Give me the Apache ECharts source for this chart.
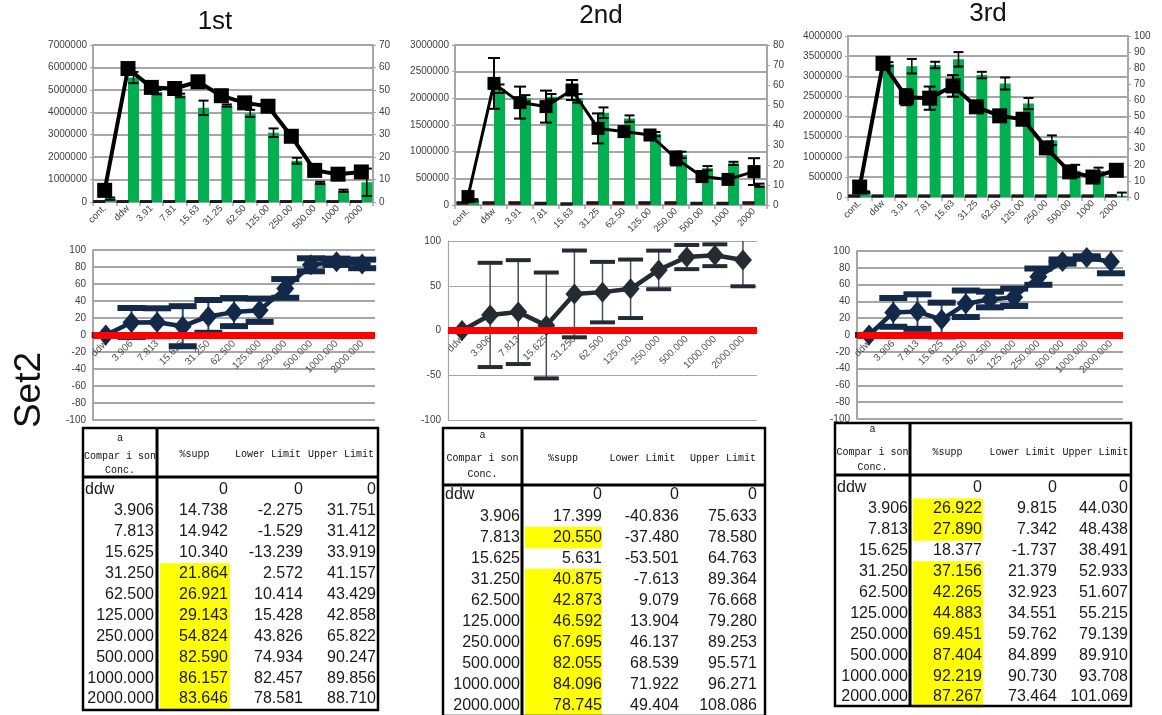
<!DOCTYPE html>
<html>
<head>
<meta charset="utf-8">
<script src="https://cdn.jsdelivr.net/npm/echarts@6/dist/echarts.min.js"></script>
<style>
  html, body { margin: 0; padding: 0; background: #fff; }
  #c { width: 1162px; height: 715px; }
</style>
</head>
<body>
<div id="c"></div>
<script>
// ---- categories ----
const TOP_CATS = ['cont.', 'ddw', '3.91', '7.81', '15.63', '31.25', '62.50', '125.00', '250.00', '500.00', '1000', '2000'];
const CONC = ['ddw', '3.906', '7.813', '15.625', '31.250', '62.500', '125.000', '250.000', '500.000', '1000.000', '2000.000'];
const TITLES = ['1st', '2nd', '3rd'];
const SET_NAME = 'Set2';

// ---- top panels: left-axis bars (mean, sd), right-axis line (mean, sd) ----
const base1 = [20000, 20000, 20000, 20000, 20000, 20000, 20000, 20000, 20000, 20000, 20000, 20000];
const baseSd1 = [10000, 10000, 10000, 10000, 10000, 10000, 10000, 10000, 10000, 10000, 10000, 10000];
const bar1 = [150000, 5550000, 4900000, 4750000, 4200000, 4300000, 3950000, 3090000, 1840000, 850000, 500000, 880000];
const barSd1 = [50000, 250000, 100000, 80000, 320000, 50000, 160000, 190000, 130000, 50000, 50000, 610000];
const rate1 = [5.2, 59.5, 51.1, 50.6, 53.6, 47.4, 44.2, 42.7, 29.3, 14.1, 12.4, 13.4];
const rateSd1 = [0.5, 1.5, 1, 1, 1.5, 1, 1, 1, 1, 1, 1, 1];

const base2 = [40000, 40000, 40000, 30000, 20000, 40000, 40000, 40000, 40000, 30000, 30000, 40000];
const baseSd2 = [8000, 8000, 8000, 8000, 8000, 8000, 8000, 8000, 8000, 8000, 8000, 8000];
const bar2 = [90000, 2180000, 2000000, 2030000, 2000000, 1730000, 1620000, 1330000, 940000, 690000, 780000, 370000];
const barSd2 = [20000, 80000, 60000, 50000, 80000, 100000, 60000, 40000, 60000, 40000, 30000, 30000];
const rate2 = [4.2, 60.8, 51.2, 49.2, 57.5, 38.3, 36.7, 35.0, 23.3, 14.2, 12.8, 16.7];
const rateSd2 = [1, 12.7, 8, 8, 5, 7.5, 2, 1.5, 3.5, 2.5, 2, 6.7];

const base3 = [25000, 25000, 25000, 25000, 25000, 25000, 25000, 25000, 25000, 25000, 25000, 30000];
const baseSd3 = [10000, 10000, 10000, 10000, 10000, 10000, 10000, 10000, 10000, 10000, 10000, 10000];
const bar3 = [120000, 3300000, 3250000, 3280000, 3420000, 3030000, 2820000, 2320000, 1410000, 650000, 650000, 30000];
const barSd3 = [20000, 50000, 180000, 80000, 180000, 80000, 150000, 140000, 120000, 150000, 80000, 80000];
const rate3 = [6.2, 83.0, 62.0, 61.4, 69.0, 56.0, 50.4, 48.3, 30.5, 15.6, 12.4, 16.6];
const rateSd3 = [1, 1.5, 5, 7.2, 6.7, 2, 1.5, 1.5, 1.5, 2, 2, 2];

// ---- axis tick settings of the top panels ----
const LEFT_MAX = [7000000, 3000000, 4000000];
const LEFT_STEP = [1000000, 500000, 500000];
const RIGHT_MAX = [70, 80, 100];
const RIGHT_STEP = [10, 10, 10];
const MID_STEP = [20, 50, 20];

// ---- %supp with confidence limits (tables and middle panels) ----
const supp1 = [0, 14.738, 14.942, 10.340, 21.864, 26.921, 29.143, 54.824, 82.590, 86.157, 83.646];
const lower1 = [0, -2.275, -1.529, -13.239, 2.572, 10.414, 15.428, 43.826, 74.934, 82.457, 78.581];
const upper1 = [0, 31.751, 31.412, 33.919, 41.157, 43.429, 42.858, 65.822, 90.247, 89.856, 88.710];
const sig1 = [0, 0, 0, 0, 1, 1, 1, 1, 1, 1, 1];

const supp2 = [0, 17.399, 20.550, 5.631, 40.875, 42.873, 46.592, 67.695, 82.055, 84.096, 78.745];
const lower2 = [0, -40.836, -37.480, -53.501, -7.613, 9.079, 13.904, 46.137, 68.539, 71.922, 49.404];
const upper2 = [0, 75.633, 78.580, 64.763, 89.364, 76.668, 79.280, 89.253, 95.571, 96.271, 108.086];
const sig2 = [0, 0, 1, 0, 1, 1, 1, 1, 1, 1, 1];

const supp3 = [0, 26.922, 27.890, 18.377, 37.156, 42.265, 44.883, 69.451, 87.404, 92.219, 87.267];
const lower3 = [0, 9.815, 7.342, -1.737, 21.379, 32.923, 34.551, 59.762, 84.899, 90.730, 73.464];
const upper3 = [0, 44.030, 48.438, 38.491, 52.933, 51.607, 55.215, 79.139, 89.910, 93.708, 101.069];
const sig3 = [0, 1, 1, 0, 1, 1, 1, 1, 1, 1, 1];

const HEAD = ['%supp', 'Lower Limit', 'Upper Limit'];
const HEAD0 = ['a', 'Compar i son', 'Conc.'];

// ---- layout ----
const FONT = '"Liberation Sans", Arial, sans-serif';
const MONO = '"Liberation Mono", "DejaVu Sans Mono", monospace';
const GREEN = '#00b050', RED = '#ff0000', GRID = '#a6a6a6';

const TOP_GRID = [
  { left: 93, top: 45, width: 280, height: 157 },
  { left: 455, top: 45, width: 312, height: 160 },
  { left: 848, top: 36, width: 280, height: 161 }
];
const SQUARE = [15, 13, 15];
const MID_GRID = [
  { left: 93, top: 250, width: 282, height: 170 },
  { left: 448, top: 241, width: 309, height: 179 },
  { left: 857, top: 251, width: 266, height: 168 }
];
const MID_STYLE = [
  { mark: '#13294a', stem: '#2c4a78', stemW: 2, cap: 28, capW: 6, grid: 2 },
  { mark: '#252b33', stem: '#4a4f55', stemW: 1.5, cap: 25, capW: 4, grid: 1.2 },
  { mark: '#13294a', stem: '#2c4a78', stemW: 2, cap: 28, capW: 6, grid: 2 }
];
const TABLE = [
  { cols: [83, 157, 232, 304, 378], textR: [154, 228, 303, 376], top: 428, headBottom: 477, bottom: 710, row0: 490, pitch: 20.9, headY: [438, 456, 470], labelY: 454 },
  { cols: [443, 522, 604, 681, 765], textR: [520, 602, 679, 757], top: 428, headBottom: 485, bottom: 716, row0: 495, pitch: 21.1, headY: [435, 458, 474], labelY: 458 },
  { cols: [835, 910, 985, 1060, 1131], textR: [908, 982, 1057, 1128], top: 423, headBottom: 475, bottom: 706, row0: 488, pitch: 20.9, headY: [429, 452, 467], labelY: 452 }
];
const TITLE_POS = [[215, 22], [601, 16], [988, 14]];

const SETS = [
  { base: base1, baseSd: baseSd1, bar: bar1, barSd: barSd1, rate: rate1, rateSd: rateSd1, supp: supp1, lower: lower1, upper: upper1, sig: sig1 },
  { base: base2, baseSd: baseSd2, bar: bar2, barSd: barSd2, rate: rate2, rateSd: rateSd2, supp: supp2, lower: lower2, upper: upper2, sig: sig2 },
  { base: base3, baseSd: baseSd3, bar: bar3, barSd: barSd3, rate: rate3, rateSd: rateSd3, supp: supp3, lower: lower3, upper: upper3, sig: sig3 }
];

// error bars drawn through the axis scales
function errorSeries(xIdx, yIdx, rows, st) {
  return {
    type: 'custom', xAxisIndex: xIdx, yAxisIndex: yIdx, z: st.z, silent: true,
    data: rows, encode: { x: 0, y: [1, 2] },
    renderItem(params, api) {
      const i = api.value(0);
      let lo = api.value(1), hi = api.value(2);
      const capTop = hi <= st.max, capBot = lo >= st.min;
      hi = Math.min(hi, st.max); lo = Math.max(lo, st.min);
      const a = api.coord([i, hi]), b = api.coord([i, lo]);
      const x = a[0] + st.dx, hw = st.cap / 2;
      const kids = [];
      if (st.stemW > 0) kids.push({ type: 'line', shape: { x1: x, y1: a[1], x2: x, y2: b[1] }, style: { stroke: st.stem, lineWidth: st.stemW } });
      if (capTop) kids.push({ type: 'line', shape: { x1: x - hw, y1: a[1], x2: x + hw, y2: a[1] }, style: { stroke: st.color, lineWidth: st.capW } });
      if (capBot) kids.push({ type: 'line', shape: { x1: x - hw, y1: b[1], x2: x + hw, y2: b[1] }, style: { stroke: st.color, lineWidth: st.capW } });
      return { type: 'group', children: kids };
    }
  };
}
const sdRows = (m, sd) => m.map((v, i) => [i, v - sd[i], v + sd[i]]);

const grid = [], xAxis = [], yAxis = [], series = [], graphic = [];
const axisText = { color: '#404040', fontSize: 10, fontFamily: FONT };
const plain = v => String(v);

SETS.forEach((s, k) => {
  // ---------- top panel ----------
  const g = grid.length;
  grid.push(Object.assign({ containLabel: false }, TOP_GRID[k]));
  const xi = xAxis.length;
  xAxis.push({
    type: 'category', gridIndex: g, data: TOP_CATS, boundaryGap: true,
    axisLine: { lineStyle: { color: GRID, width: 2 } },
    axisTick: { show: true, length: 4, lineStyle: { color: GRID, width: 1.5 } },
    axisLabel: Object.assign({}, axisText, { fontSize: 9.5, interval: 0, rotate: 45, margin: 5 })
  });
  const yl = yAxis.length;
  yAxis.push({
    type: 'value', gridIndex: g, min: 0, max: LEFT_MAX[k], interval: LEFT_STEP[k], position: 'left',
    axisLine: { show: true, lineStyle: { color: GRID, width: 2 } },
    axisTick: { show: true, length: 3, lineStyle: { color: GRID } },
    splitLine: { show: true, lineStyle: { color: GRID, width: 2 } },
    axisLabel: Object.assign({}, axisText, { margin: 6, formatter: plain })
  });
  const yr = yAxis.length;
  yAxis.push({
    type: 'value', gridIndex: g, min: 0, max: RIGHT_MAX[k], interval: RIGHT_STEP[k], position: 'right',
    axisLine: { show: true, lineStyle: { color: GRID, width: 2 } },
    axisTick: { show: true, length: 3, lineStyle: { color: GRID } },
    splitLine: { show: false },
    axisLabel: Object.assign({}, axisText, { margin: 6, formatter: plain })
  });
  series.push({ type: 'bar', xAxisIndex: xi, yAxisIndex: yl, data: s.base, barWidth: 11, barGap: '0%', itemStyle: { color: RED }, z: 2 });
  series.push({ type: 'bar', xAxisIndex: xi, yAxisIndex: yl, data: s.bar, barWidth: 11, barGap: '0%', itemStyle: { color: GREEN }, z: 2 });
  series.push(errorSeries(xi, yl, sdRows(s.base, s.baseSd), { dx: -5.5, cap: 12, capW: 2.5, color: '#1a1a1a', stemW: 0, min: 0, max: LEFT_MAX[k], z: 3 }));
  series.push(errorSeries(xi, yl, sdRows(s.bar, s.barSd), { dx: 5.5, cap: 10, capW: 2, color: '#000', stem: '#000', stemW: 1.5, min: 0, max: LEFT_MAX[k], z: 3 }));
  series.push(errorSeries(xi, yr, sdRows(s.rate, s.rateSd), { dx: 0, cap: 12, capW: 2, color: '#000', stem: '#000', stemW: 2, min: 0, max: RIGHT_MAX[k], z: 4 }));
  series.push({
    type: 'line', xAxisIndex: xi, yAxisIndex: yr, data: s.rate, z: 5,
    symbol: 'rect', symbolSize: SQUARE[k], itemStyle: { color: '#000' },
    lineStyle: { color: '#000', width: k === 1 ? 3 : 4 }
  });

  // ---------- middle panel ----------
  const ms = MID_STYLE[k];
  const gm = grid.length;
  grid.push(Object.assign({ containLabel: false }, MID_GRID[k]));
  const xm = xAxis.length;
  // category axis sits on the zero line (range is symmetric about 0)
  xAxis.push({
    type: 'category', gridIndex: gm, data: CONC, boundaryGap: true,
    offset: -MID_GRID[k].height / 2,
    axisLine: { onZero: false, lineStyle: { color: GRID, width: 1.5 } },
    axisTick: { show: false },
    axisLabel: Object.assign({}, axisText, { fontSize: 10, color: '#505050', interval: 0, rotate: 45, margin: 7 })
  });
  const ym = yAxis.length;
  yAxis.push({
    type: 'value', gridIndex: gm, min: -100, max: 100, interval: MID_STEP[k],
    axisLine: { show: true, lineStyle: { color: GRID, width: ms.grid } },
    axisTick: { show: false },
    splitLine: { show: true, lineStyle: { color: GRID, width: ms.grid } },
    axisLabel: Object.assign({}, axisText, { margin: 7, formatter: plain })
  });
  series.push({
    type: 'line', xAxisIndex: xm, yAxisIndex: ym, data: [], z: 1, silent: true,
    markLine: { silent: true, symbol: 'none', label: { show: false }, lineStyle: { color: RED, width: 7, type: 'solid' }, data: [{ yAxis: 0 }] }
  });
  series.push(errorSeries(xm, ym, s.supp.map((v, i) => [i, s.lower[i], s.upper[i]]),
    { dx: 0, cap: ms.cap, capW: ms.capW, color: ms.mark, stem: ms.stem, stemW: ms.stemW, min: -100, max: 100, z: 3 }));
  series.push({
    type: 'line', xAxisIndex: xm, yAxisIndex: ym, data: s.supp, z: 4,
    symbol: 'diamond', symbolSize: [18, 21], itemStyle: { color: ms.mark },
    lineStyle: { color: ms.mark, width: 4.5 }
  });

  // ---------- title ----------
  graphic.push({ type: 'text', x: TITLE_POS[k][0], y: TITLE_POS[k][1],
    style: { text: TITLES[k], font: '26px ' + FONT, fill: '#111', align: 'center', verticalAlign: 'middle' } });

  // ---------- table ----------
  const t = TABLE[k];
  const rowTop = i => t.row0 + i * t.pitch - t.pitch / 2;
  graphic.push({ type: 'rect', shape: { x: t.cols[0], y: t.top, width: t.cols[4] - t.cols[0], height: t.bottom - t.top }, style: { fill: '#fff' } });
  s.sig.forEach((f, i) => {
    if (f) graphic.push({ type: 'rect', shape: { x: t.cols[1] + 3, y: rowTop(i), width: t.cols[2] - t.cols[1] - 5, height: t.pitch + 0.6 }, style: { fill: '#ffff00' } });
  });
  graphic.push({ type: 'rect', shape: { x: t.cols[0], y: t.top, width: t.cols[4] - t.cols[0], height: t.bottom - t.top }, style: { fill: 'none', stroke: '#000', lineWidth: 2.5 } });
  graphic.push({ type: 'line', shape: { x1: t.cols[1], y1: t.top, x2: t.cols[1], y2: t.bottom }, style: { stroke: '#000', lineWidth: 3 } });
  graphic.push({ type: 'line', shape: { x1: t.cols[0], y1: t.headBottom, x2: t.cols[4], y2: t.headBottom }, style: { stroke: '#000', lineWidth: 3 } });
  HEAD0.forEach((h, j) => graphic.push({ type: 'text', x: (t.cols[0] + t.cols[1]) / 2, y: t.headY[j],
    style: { text: h, font: '10px ' + MONO, fill: '#111', align: 'center', verticalAlign: 'middle' } }));
  HEAD.forEach((h, j) => graphic.push({ type: 'text', x: (t.cols[j + 1] + t.cols[j + 2]) / 2, y: t.labelY,
    style: { text: h, font: '10px ' + MONO, fill: '#111', align: 'center', verticalAlign: 'middle' } }));
  const fmt = v => (v === 0 ? '0' : v.toFixed(3));
  CONC.forEach((c, i) => {
    const y = t.row0 + i * t.pitch;
    graphic.push({ type: 'text', x: i === 0 ? t.cols[0] + 2 : t.textR[0], y,
      style: { text: c, font: '16px ' + FONT, fill: '#1a1a1a', align: i === 0 ? 'left' : 'right', verticalAlign: 'middle' } });
    [s.supp, s.lower, s.upper].forEach((arr, j) => graphic.push({ type: 'text', x: t.textR[j + 1], y,
      style: { text: fmt(arr[i]), font: '16px ' + FONT, fill: '#1a1a1a', align: 'right', verticalAlign: 'middle' } }));
  });
});

graphic.push({ type: 'text', x: 30, y: 390, rotation: Math.PI / 2,
  style: { text: SET_NAME, font: '37px ' + FONT, fill: '#111', align: 'center', verticalAlign: 'middle' } });

const chart = echarts.init(document.getElementById('c'), null, { renderer: 'canvas', width: 1162, height: 715 });
chart.setOption({
  animation: false,
  backgroundColor: '#fff',
  grid, xAxis, yAxis, series,
  graphic: { elements: graphic }
});
</script>
</body>
</html>
